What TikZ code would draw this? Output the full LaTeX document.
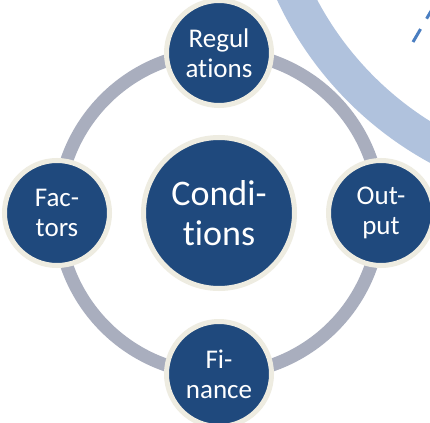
\documentclass[tikz,border=0pt]{standalone}
\usepackage{fontspec}
\setmainfont{Carlito}[Ligatures={NoCommon}]
\definecolor{navy}{HTML}{1F497D}
\definecolor{cream}{HTML}{EEECE1}
\definecolor{ringgray}{HTML}{A9AEBE}
\definecolor{paleblue}{HTML}{B0C2DD}
\definecolor{dashblue}{HTML}{4A7EC1}
\tikzset{
  smallcirc/.style={circle, fill=navy, draw=cream, line width=5pt, minimum size=105pt, inner sep=0pt,
    text=white, align=center, font=\fontsize{27}{30}\selectfont},
  bigcirc/.style={circle, fill=navy, draw=cream, line width=5pt, minimum size=151pt, inner sep=0pt,
    text=white, align=center, font=\fontsize{36}{40}\selectfont},
  ringline/.style={draw=ringgray, line width=13pt},
  bandline/.style={draw=paleblue, line width=36pt},
  dashline/.style={draw=dashblue, line width=3pt, dash pattern=on 15pt off 12pt}
}
\begin{document}
\begin{tikzpicture}[x=1pt,y=-1pt]
\useasboundingbox (0,0) rectangle (430,422);
\clip (0,0) rectangle (430,422);
\fill[white] (0,0) rectangle (430,422);
% large pale arc
\coordinate (bandc) at (600,-150);
\draw[bandline] (bandc) circle[radius=338pt];
% dashed line
\coordinate (d1) at (413,42);
\coordinate (d2) at (434,6);
\draw[dashline] (d1) -- (d2);
% ring and nodes
\coordinate (ctr) at (219,213);
\draw[ringline] (ctr) circle[radius=161pt];
\node[bigcirc] (c) at (ctr) {Condi-\\tions};
\node[smallcirc] (reg) at (219,53) {Regul\\ations};
\node[smallcirc] (fac) at (57,213) {Fac-\\tors};
\node[smallcirc] (out) at (381,213) {Out-\\put};
\node[smallcirc] (fin) at (219,374) {Fi-\\nance};
\end{tikzpicture}
\end{document}
